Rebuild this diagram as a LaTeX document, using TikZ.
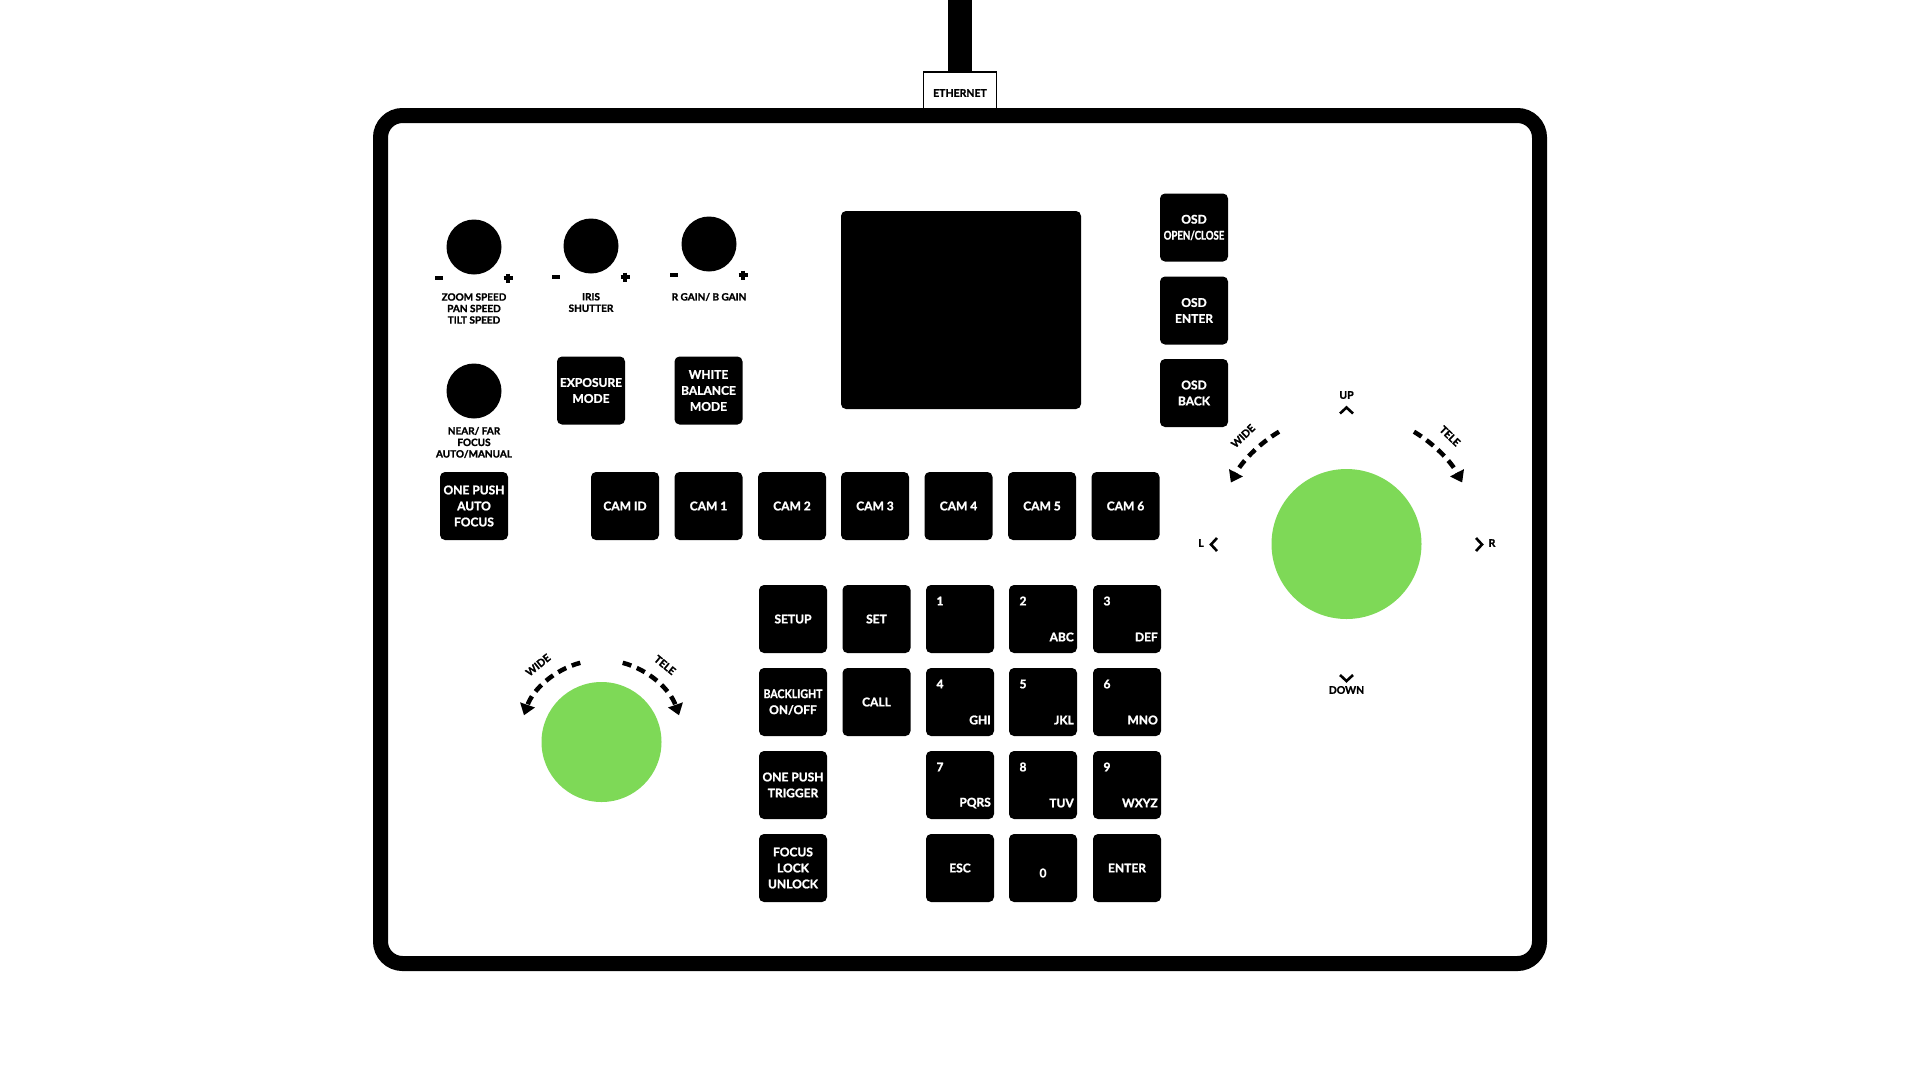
\documentclass[tikz,border=0pt]{standalone}
\usepackage{fontspec}
\setmainfont{Lato}[BoldFeatures={FakeBold=1.5}]
\usetikzlibrary{arrows.meta,calc}
\definecolor{joygreen}{HTML}{7ED957}
\begin{document}
\begin{tikzpicture}[x=1pt,y=-1pt,
  btn/.style={fill=black, rounded corners=5pt, minimum width=68pt, minimum height=68pt, inner sep=0pt, text=white, align=center, font=\fontsize{12}{16}\selectfont\bfseries},
  knob/.style={circle, fill=black, minimum size=55pt, inner sep=0pt},
  klbl/.style={align=center, font=\fontsize{10}{11.5}\selectfont\bfseries, inner sep=0pt},
  dlbl/.style={text=white, font=\fontsize{12}{12}\selectfont\bfseries, inner sep=0pt},
  dirlbl/.style={font=\fontsize{10.5}{12}\selectfont\bfseries, inner sep=0pt},
  chev/.style={line width=2.6pt, line join=miter},
  sgnline/.style={line width=3.2pt},
  zoomarc/.style={line width=4.5pt, dash pattern=on 9pt off 6pt, -{Triangle[length=11pt,width=15pt]}},
]
\useasboundingbox (0,0) rectangle (1920,1080);
\fill[white] (0,0) rectangle (1920,1080);

% ethernet cable and box
\fill (948,0) rectangle (972,73);
\node[draw, line width=1.2pt, fill=white, minimum width=73pt, minimum height=40pt, inner sep=0pt] (ethbox) at (960,92) {};
\node[font=\fontsize{10.5}{12}\selectfont\bfseries, inner sep=0pt] (ethlbl) at (960,93) {ETHERNET};

% frame
\draw[line width=15pt, rounded corners=22pt] (380.5,115.5) rectangle (1539.5,963.5);

% screen
\node[fill=black, rounded corners=5pt, minimum width=240pt, minimum height=198pt, inner sep=0pt] (screen) at (961,310) {};

% knobs
\node[knob] (k1) at (474,247) {};
\node[knob] (k2) at (591,246) {};
\node[knob] (k3) at (709,244) {};
\node[knob] (k4) at (474,391) {};
\foreach \k in {k1,k2,k3}{
  \draw[sgnline] ($(\k)+(-39,31)$) -- ($(\k)+(-31,31)$);
  \draw[sgnline] ($(\k)+(29.5,31)$) -- ($(\k)+(38.5,31)$);
  \draw[sgnline] ($(\k)+(34,26.5)$) -- ($(\k)+(34,35.5)$);
}
\node[klbl] (k1lbl) at (474,308.5) {ZOOM SPEED\\PAN SPEED\\TILT SPEED};
\node[klbl] (k2lbl) at (591,302.5) {IRIS\\SHUTTER};
\node[klbl] (k3lbl) at (709,297) {R GAIN/ B GAIN};
\node[klbl] (k4lbl) at (474,442.5) {NEAR/ FAR\\FOCUS\\AUTO/MANUAL};

% mode buttons
\node[btn] (expo) at (591,390.5) {EXPOSURE\\MODE};
\node[btn] (wb) at (708.5,390.5) {WHITE\\BALANCE\\MODE};
\node[btn] (opaf) at (474,506) {ONE PUSH\\AUTO\\FOCUS};

% OSD buttons
\node[btn] (osdoc) at (1194,227.5) {OSD\\\scalebox{0.8}[1]{OPEN/CLOSE}};
\node[btn] (osdent) at (1194,310.5) {OSD\\ENTER};
\node[btn] (osdback) at (1194,393) {OSD\\BACK};

% camera row
\node[btn] (camid) at (625,506) {CAM ID};
\node[btn] (cam1) at (708.5,506) {CAM 1};
\node[btn] (cam2) at (792,506) {CAM 2};
\node[btn] (cam3) at (875,506) {CAM 3};
\node[btn] (cam4) at (958.5,506) {CAM 4};
\node[btn] (cam5) at (1042,506) {CAM 5};
\node[btn] (cam6) at (1125.5,506) {CAM 6};

% keypad left columns
\node[btn] (setup) at (793,619) {SETUP};
\node[btn] (set) at (876.5,619) {SET};
\node[btn] (backl) at (793,702) {\scalebox{0.88}[1]{BACKLIGHT}\\ON/OFF};
\node[btn] (call) at (876.5,702) {CALL};
\node[btn] (optrig) at (793,785) {ONE PUSH\\TRIGGER};
\node[btn] (flock) at (793,868) {FOCUS\\LOCK\\UNLOCK};

% numeric keys
\foreach \n/\x/\y/\l in {1/960/619/{}, 2/1043/619/ABC, 3/1127/619/DEF,
                         4/960/702/GHI, 5/1043/702/JKL, 6/1127/702/MNO,
                         7/960/785/PQRS, 8/1043/785/TUV, 9/1127/785/WXYZ}{
  \node[btn] (d\n) at (\x,\y) {};
  \node[dlbl] (d\n num) at ($(d\n.center)+(-20,-18)$) {\n};
  \node[dlbl, anchor=east] (d\n let) at ($(d\n.center)+(31,18)$) {\l};
}
\node[btn] (esc) at (960,868) {ESC};
\node[btn] (d0) at (1043,868) {};
\node[dlbl] (d0num) at ($(d0.center)+(0,5)$) {0};
\node[btn] (enter) at (1127,868) {ENTER};

% right joystick
\coordinate (J) at (1346.5,544);
\fill[joygreen] (J) circle[radius=75];
\node[inner sep=0pt, minimum size=150pt] (joy) at (J) {};
\draw[zoomarc] ($(J)+(-121:131)$) arc[start angle=-121, end angle=-152, radius=131];
\draw[zoomarc] ($(J)+(-59:131)$) arc[start angle=-59, end angle=-28, radius=131];
\node[dirlbl, rotate=44] (jwide) at (1243,436) {WIDE};
\node[dirlbl, rotate=-44] (jtele) at (1450,436) {TELE};
\node[dirlbl] (jup) at (1346.5,395) {UP};
\draw[chev] (1340,413.5) -- (1346.5,407.5) -- (1353,413.5);
\node[dirlbl] (jdown) at (1346.5,690) {DOWN};
\draw[chev] (1340,675) -- (1346.5,681) -- (1353,675);
\node[dirlbl] (jl) at (1201,543) {L};
\draw[chev] (1217,538) -- (1211,544.5) -- (1217,551);
\node[dirlbl] (jr) at (1492,543) {R};
\draw[chev] (1476,538) -- (1482,544.5) -- (1476,551);

% left joystick
\coordinate (Z) at (601.5,742);
\fill[joygreen] (Z) circle[radius=60];
\node[inner sep=0pt, minimum size=120pt] (zjoy) at (Z) {};
\draw[zoomarc] ($(Z)+(-105:82)$) arc[start angle=-105, end angle=-161, radius=82];
\draw[zoomarc] ($(Z)+(-75:82)$) arc[start angle=-75, end angle=-19, radius=82];
\node[dirlbl, rotate=39] (zwide) at (538,665) {WIDE};
\node[dirlbl, rotate=-39] (ztele) at (665,665) {TELE};
\end{tikzpicture}
\end{document}
